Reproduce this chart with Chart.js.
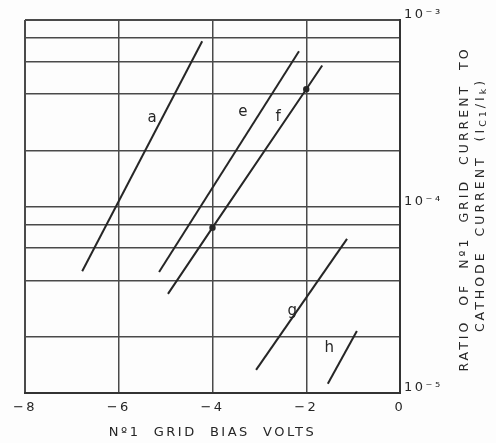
<!DOCTYPE html>
<html><head><meta charset="utf-8">
<script src="https://cdn.jsdelivr.net/npm/chart.js@4"></script>
<style>html,body{margin:0;padding:0;background:#fff}#wrap{width:496px;height:443px}</style>
</head><body><div id="wrap"><canvas id="c" width="496" height="443"></canvas></div>
<script>
// ---- data ----
const curveNames = ['a', 'e', 'f', 'g', 'h'];
const curveA = [{x: -6.78, y: 4.5e-5}, {x: -4.22, y: 7.7e-4}];
const curveE = [{x: -5.14, y: 4.45e-5}, {x: -2.155, y: 6.8e-4}];
const curveF = [{x: -4.95, y: 3.4e-5}, {x: -4.0, y: 7.7e-5}, {x: -2.0, y: 4.25e-4}, {x: -1.66, y: 5.7e-4}];
const curveG = [{x: -3.07, y: 1.33e-5}, {x: -1.13, y: 6.7e-5}];
const curveH = [{x: -1.54, y: 1.12e-5}, {x: -0.92, y: 2.15e-5}];
const curveLabelX = [-5.29, -3.35, -2.60, -2.30, -1.51];
const curveLabelY = [2.98e-4, 3.21e-4, 3.02e-4, 2.75e-5, 1.74e-5];
const xTicks = [-8, -6, -4, -2, 0];
const yTicks = [1e-5, 2e-5, 4e-5, 6e-5, 8e-5, 1e-4, 2e-4, 4e-4, 6e-4, 8e-4, 1e-3];
const yDecades = [1e-5, 1e-4, 1e-3];
const yDecadeLabels = ['10⁻⁵', '10⁻⁴', '10⁻³'];
const xTitle = 'Nº1  GRID  BIAS  VOLTS';
const yTitleLine1 = 'RATIO  OF  Nº1  GRID  CURRENT  TO';
const yTitleLine2Runs = [['CATHODE  CURRENT  (I', 0], ['C1', 1], ['/', 0], ['I', 0], ['k', 1], [')', 0]];

const INK = '#262626';
const GRID = '#4a4a4a';
const FONT = '"DejaVu Sans", sans-serif';

function lineDs(data, pr) {
  return {data, showLine: true, borderColor: INK, backgroundColor: INK, borderWidth: 2,
    pointRadius: pr || 0, pointHoverRadius: 0, tension: 0};
}

const annot = {
  id: 'annot',
  beforeDraw(chart) {
    const ctx = chart.ctx;
    ctx.save();
    ctx.fillStyle = '#fdfdfd';
    ctx.fillRect(0, 0, chart.width, chart.height);
    ctx.restore();
    ctx.letterSpacing = '2.5px';
  },
  afterDraw(chart) {
    const {ctx, scales: {x, y}} = chart;
    ctx.save();
    ctx.letterSpacing = '0px';
    ctx.fillStyle = INK;
    ctx.font = '15px ' + FONT;
    ctx.textAlign = 'center';
    ctx.textBaseline = 'middle';
    curveNames.forEach((n, i) => {
      ctx.fillText(n, x.getPixelForValue(curveLabelX[i]), y.getPixelForValue(curveLabelY[i]));
    });
    ctx.restore();

    // right axis title, reading bottom to top
    ctx.save();
    ctx.fillStyle = INK;
    ctx.letterSpacing = '3px';
    ctx.textBaseline = 'middle';
    ctx.translate(465, 209);
    ctx.rotate(-Math.PI / 2);
    ctx.font = '12.5px ' + FONT;
    ctx.textAlign = 'center';
    ctx.fillText(yTitleLine1, 0, 0);
    ctx.restore();

    ctx.save();
    ctx.fillStyle = INK;
    ctx.letterSpacing = '3px';
    ctx.textBaseline = 'middle';
    ctx.translate(481, 205);
    ctx.rotate(-Math.PI / 2);
    ctx.textAlign = 'left';
    const fonts = ['12.5px ' + FONT, '9.5px ' + FONT];
    let total = 0;
    yTitleLine2Runs.forEach(([t, s]) => { ctx.font = fonts[s]; total += ctx.measureText(t).width; });
    let cx = -total / 2;
    yTitleLine2Runs.forEach(([t, s]) => {
      ctx.font = fonts[s];
      ctx.fillText(t, cx, s ? 3 : 0);
      cx += ctx.measureText(t).width;
    });
    ctx.restore();
  }
};

new Chart(document.getElementById('c'), {
  type: 'scatter',
  data: {
    datasets: [
      lineDs(curveA), lineDs(curveE), lineDs(curveF, [0, 2.2, 2.2, 0]), lineDs(curveG), lineDs(curveH)
    ]
  },
  options: {
    responsive: false,
    animation: false,
    devicePixelRatio: 1,
    layout: {padding: {left: 25, top: 20, right: 0, bottom: 0}},
    plugins: {legend: {display: false}, tooltip: {enabled: false}},
    scales: {
      x: {
        type: 'linear', min: -8, max: 0, position: 'bottom',
        afterBuildTicks: s => { s.ticks = xTicks.map(v => ({value: v})); },
        afterFit: s => { s.height = 50; },
        grid: {color: GRID, lineWidth: c => (c.tick && c.tick.value === -8) ? 2 : 1.5, drawTicks: false},
        border: {color: '#333', width: 2},
        ticks: {color: INK, padding: 7, font: {family: FONT, size: 13},
          callback: v => v < 0 ? '−' + Math.abs(v) : String(v)},
        title: {display: true, text: xTitle, color: INK, font: {family: FONT, size: 13},
          padding: {top: 0, bottom: 3}}
      },
      y: {
        type: 'logarithmic', min: 1e-5, max: 1e-3, position: 'right',
        afterBuildTicks: s => { s.ticks = yTicks.map(v => ({value: v})); },
        afterFit: s => { s.width = 96; },
        grid: {color: GRID, lineWidth: c => (c.tick && c.tick.value === 1e-3) ? 2 : 1.5, drawTicks: false},
        border: {color: '#333', width: 2},
        ticks: {color: INK, padding: 4, labelOffset: -5, autoSkip: false, font: {family: FONT, size: 13},
          callback: v => {
            const i = yDecades.findIndex(d => Math.abs(d - v) / d < 1e-6);
            return i >= 0 ? yDecadeLabels[i] : '';
          }}
      }
    }
  },
  plugins: [annot]
});
</script>
</body></html>
